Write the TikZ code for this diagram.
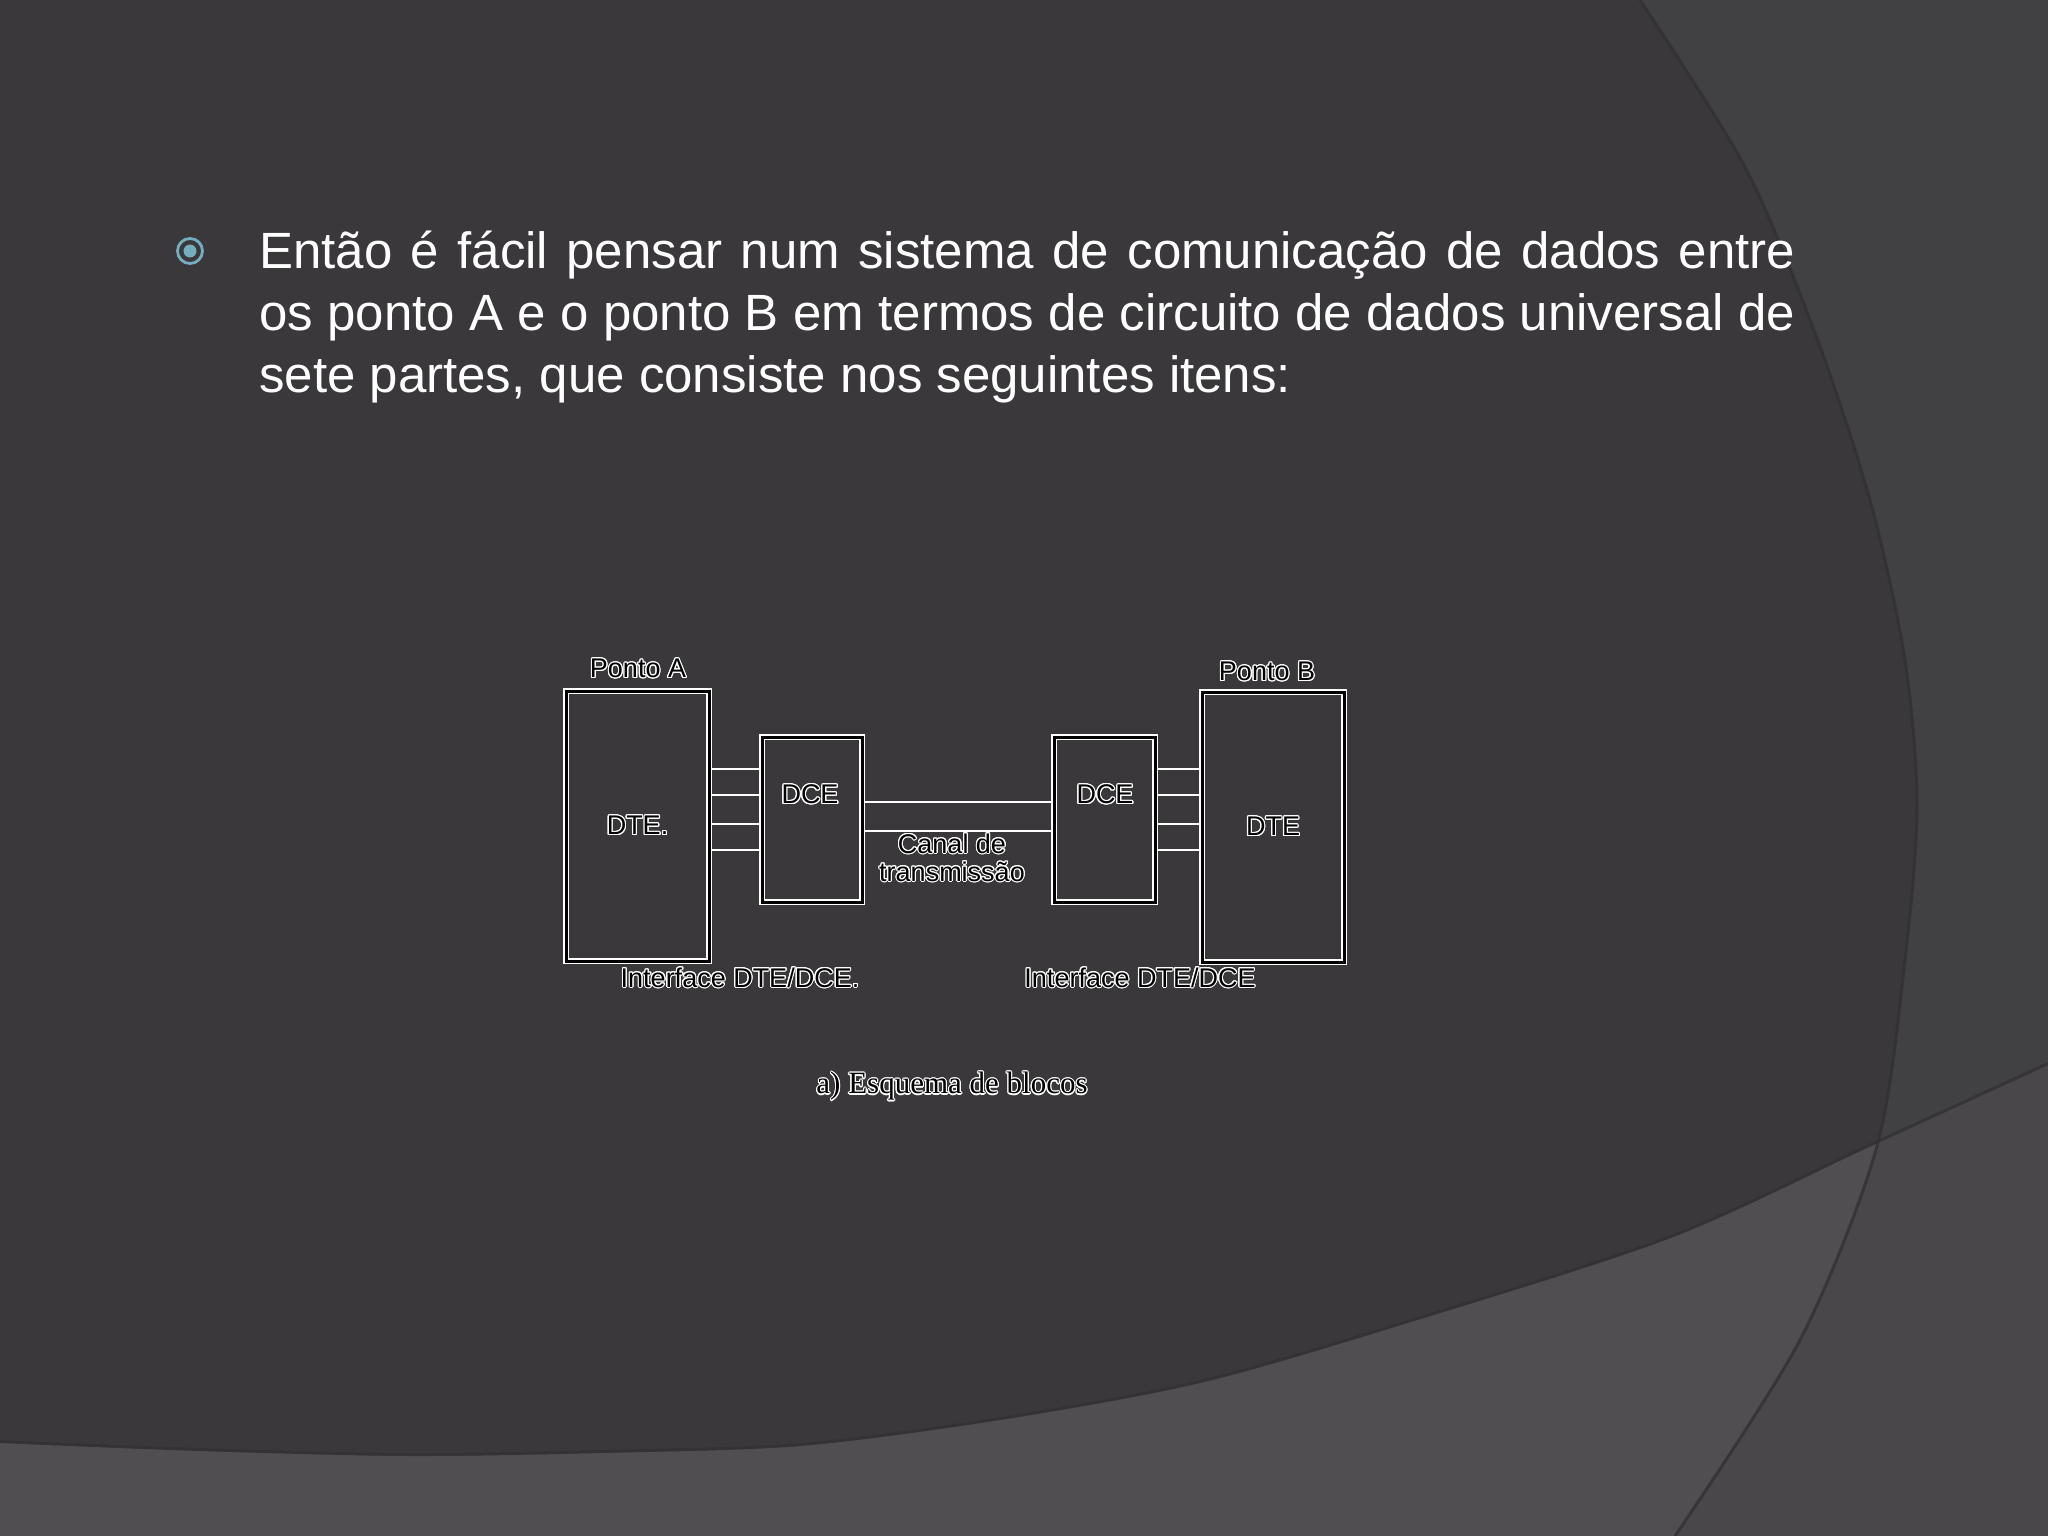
\documentclass[tikz,border=0pt]{standalone}
\usepackage{fontspec}
\setmainfont{Liberation Sans}
\newfontfamily\serifcap{Liberation Serif}
\usepackage{contour}
\contourlength{1.1pt}
\usetikzlibrary{calc}
\definecolor{bgdark}{HTML}{3A383B}
\definecolor{bgright}{HTML}{414043}
\definecolor{band}{HTML}{504E51}
\definecolor{bandright}{HTML}{49474A}
\definecolor{edgeshadow}{HTML}{323034}
\definecolor{bulletc}{HTML}{74AEBE}
\pgfdeclarelayer{deep}
\pgfdeclarelayer{wires}
\pgfsetlayers{deep,wires,main}
\newcommand\dgtxt[1]{\contour{white}{#1}}
\begin{document}
\begin{tikzpicture}[x=1pt,y=-1pt,
  block/.style={rectangle, draw=white, double=black, double distance=3pt, line width=1.2pt, inner sep=0pt, text=black, font=\fontsize{27pt}{30pt}\selectfont},
  wire/.style={draw=white, line width=2.2pt},
  dlabel/.style={inner sep=0pt, text=black, font=\fontsize{27pt}{28pt}\selectfont},
  body/.style={font=\fontsize{51pt}{61.5pt}\selectfont, text=white, inner sep=0pt, anchor=base west}]
\useasboundingbox (0,0) rectangle (2048,1536);
% ---------- slide background ----------
\begin{pgfonlayer}{deep}
\fill[bgright] (0,0) rectangle (2048,1536);
\fill[bgdark] (0,0) -- plot[smooth] coordinates {(1640,0) (1745,167) (1815,333) (1870,500) (1905,660) (1917,806) (1905,960) (1877,1146) (1800,1340) (1675,1536)} -- (0,1536) -- cycle;
\fill[bandright] plot[smooth] coordinates {(0,1443) (200,1451) (408,1456) (600,1453) (800,1446) (1000,1420) (1200,1383) (1401,1325) (1668,1239) (1869,1147) (2048,1065)} -- (2048,1536) -- (0,1536) -- cycle;
\begin{scope}
\clip (0,0) -- plot[smooth] coordinates {(1640,0) (1745,167) (1815,333) (1870,500) (1905,660) (1917,806) (1905,960) (1877,1146) (1800,1340) (1675,1536)} -- (0,1536) -- cycle;
\fill[band] plot[smooth] coordinates {(0,1443) (200,1451) (408,1456) (600,1453) (800,1446) (1000,1420) (1200,1383) (1401,1325) (1668,1239) (1869,1147) (2048,1065)} -- (2048,1536) -- (0,1536) -- cycle;
\end{scope}
\draw[draw=edgeshadow, line width=3pt, opacity=0.8] plot[smooth] coordinates {(1640,0) (1745,167) (1815,333) (1870,500) (1905,660) (1917,806) (1905,960) (1877,1146) (1800,1340) (1675,1536)};
\draw[draw=edgeshadow, line width=3pt, opacity=0.7, yshift=1.5pt] plot[smooth] coordinates {(0,1443) (200,1451) (408,1456) (600,1453) (800,1446) (1000,1420) (1200,1383) (1401,1325) (1668,1239) (1869,1147) (2048,1065)};
\end{pgfonlayer}
% ---------- bullet and body text ----------
\node[circle, draw=bulletc, line width=2.8pt, minimum size=25pt, inner sep=0pt] (bul) at (190,251) {};
\node[circle, fill=bulletc, minimum size=13pt, inner sep=0pt] (buldot) at (190,251) {};
\node[body] (t1) at (259,268) {\makebox[1536pt][s]{Então é fácil pensar num sistema de comunicação de dados entre}};
\node[body] (t2) at (259,330) {\makebox[1536pt][s]{os ponto A e o ponto B em termos de circuito de dados universal de}};
\node[body] (t3) at (259,392) {sete partes, que consiste nos seguintes itens:};
% ---------- block diagram ----------
\node[block, minimum width=143pt, minimum height=270pt] (dteA) at (637.5,826) {\dgtxt{DTE.}};
\node[block, minimum width=100pt, minimum height=165pt] (dceA) at (812,819.5) {};
\node[block, minimum width=101pt, minimum height=165pt] (dceB) at (1104.5,819.5) {};
\node[block, minimum width=142pt, minimum height=270pt] (dteB) at (1273,827) {\dgtxt{DTE}};
\node[dlabel] (dceAl) at (810,795) {\dgtxt{DCE}};
\node[dlabel] (dceBl) at (1105,795) {\dgtxt{DCE}};
\node[dlabel] (pa) at (638,669) {\dgtxt{Ponto A}};
\node[dlabel] (pb) at (1267,672) {\dgtxt{Ponto B}};
\node[dlabel, align=center] (canal) at (952,858) {\dgtxt{Canal de}\\\dgtxt{transmissão}};
\node[dlabel] (ifA) at (740,978) {\dgtxt{Interface DTE/DCE.}};
\node[dlabel] (ifB) at (1140,978) {\dgtxt{Interface DTE/DCE}};
\node[dlabel, font=\serifcap\fontsize{31pt}{34pt}\selectfont] (cap) at (952,1087) {\dgtxt{a) Esquema de blocos}};
\coordinate (y1) at (0,769);
\coordinate (y2) at (0,795);
\coordinate (y3) at (0,824);
\coordinate (y4) at (0,850);
\coordinate (c1) at (0,802);
\coordinate (c2) at (0,831);
\begin{pgfonlayer}{wires}
\foreach \yy in {y1,y2,y3,y4} {
  \draw[wire] (dteA.east |- \yy) -- (dceA.west |- \yy);
  \draw[wire] (dceB.east |- \yy) -- (dteB.west |- \yy);
}
\draw[wire] (dceA.east |- c1) -- (dceB.west |- c1);
\draw[wire] (dceA.east |- c2) -- (dceB.west |- c2);
\end{pgfonlayer}
\end{tikzpicture}
\end{document}
